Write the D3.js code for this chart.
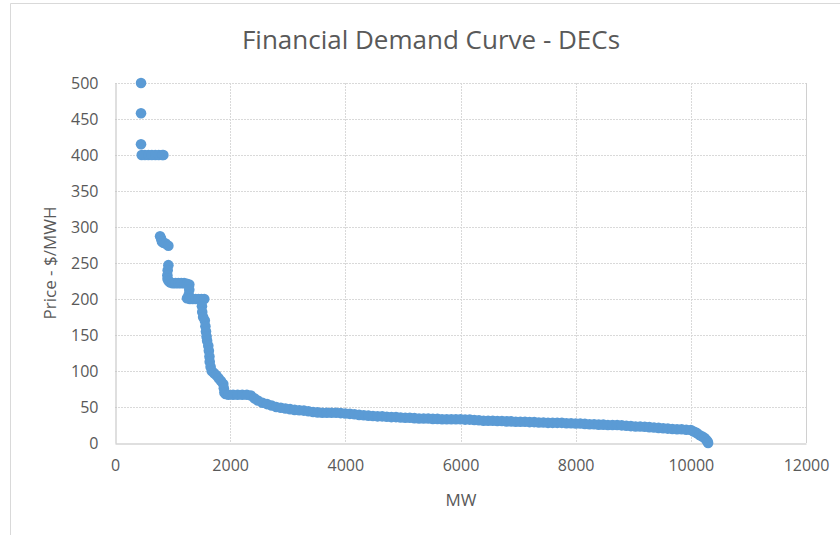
<!DOCTYPE html>
<html>
<head>
<meta charset="utf-8">
<script src="https://cdn.jsdelivr.net/npm/d3@7"></script>
<style>
  html, body { margin: 0; padding: 0; background: #fff; }
  svg { display: block; }
  text { font-family: "Open Sans", "Noto Sans", sans-serif; fill: #595959; }
</style>
</head>
<body>
<svg id="chart" width="840" height="535"></svg>
<script>
// ---- data ----
const title = "Financial Demand Curve - DECs";
const xLabel = "MW";
const yLabel = "Price - $/MWH";
const xTicks = [0, 2000, 4000, 6000, 8000, 10000, 12000];
const yTicks = [0, 50, 100, 150, 200, 250, 300, 350, 400, 450, 500];

const mw = [
  452, 452, 452,
  464, 520, 580, 640, 700, 760, 820, 840,
  783, 800, 815, 840, 880, 927,
  927, 915, 910, 912, 930, 960, 1000, 1050, 1100, 1150, 1200, 1250, 1290,
  1290, 1280, 1250, 1300, 1350, 1400, 1450, 1500, 1550,
  1510, 1515, 1530, 1560, 1570, 1580, 1590, 1600, 1620, 1630, 1640, 1645, 1660, 1680,
  1720, 1760, 1800, 1840, 1880, 1890, 1900, 1920, 1970,
  2050, 2130, 2210, 2290, 2360, 2420, 2480, 2560, 2640, 2720, 2800, 2880, 2960,
  3040, 3120, 3200, 3280, 3360, 3440, 3520, 3600, 3680, 3760, 3840, 3920,
  4000, 4080, 4160, 4240, 4320, 4400, 4480, 4560, 4640, 4720, 4800, 4880, 4960,
  5040, 5120, 5200, 5280, 5360, 5440, 5520, 5600, 5680, 5760, 5840, 5920,
  6000, 6080, 6160, 6240, 6320, 6400, 6480, 6560, 6640, 6720, 6800, 6880, 6960,
  7040, 7120, 7200, 7280, 7360, 7440, 7520, 7600, 7680, 7760, 7840, 7920,
  8000, 8080, 8160, 8240, 8320, 8400, 8480, 8560, 8640, 8720, 8800, 8880, 8960,
  9040, 9120, 9200, 9280, 9360, 9440, 9520, 9600, 9680, 9760, 9840, 9920,
  10000, 10050, 10100, 10150, 10200, 10240, 10270, 10290, 10300
];
const price = [
  500, 458, 415,
  400, 400, 400, 400, 400, 400, 400, 400,
  287, 284, 280, 278, 277, 274,
  247, 240, 233, 228, 225, 223, 222, 222, 222, 222, 222, 221, 220,
  213, 206, 201, 200, 200, 200, 200, 200, 200,
  190, 182, 175, 170, 162, 155, 148, 142, 135, 128, 120, 113, 106, 100,
  97, 94, 90, 86, 82, 76, 70, 68, 67,
  67, 67, 67, 67, 66, 62, 59, 56, 54, 52, 50, 49, 48,
  47, 46, 45.5, 45, 44, 43, 42.5, 42, 42, 42, 42, 41.5,
  41, 40.5, 40, 39, 38.5, 38, 37.5, 37, 37, 36.5, 36, 36, 35.5,
  35, 35, 34.5, 34, 34, 34, 33.5, 33.5, 33, 33, 33, 33,
  33, 32.5, 32.5, 32, 31.5, 31, 31, 31, 30.5, 30.5, 30, 30, 29.5,
  29.5, 29.5, 29, 29, 28.5, 28.5, 28, 28, 28, 28, 27.5, 27.5,
  27, 27, 26.5, 26, 26, 25.5, 25.5, 25, 25, 25, 24.5, 24, 23.5,
  23, 23, 22.5, 22, 21.5, 21, 20.5, 20, 19.5, 19, 19, 18.5,
  18, 16, 14, 11, 9, 7, 4, 2, 0
];

// ---- drawing ----
const svg = d3.select("#chart");
const W = 840, H = 535;
const m = { left: 115, right: 806, top: 83, bottom: 443 };

// outer chart frame (cropped)
svg.append("line").attr("x1", 10.5).attr("x2", W).attr("y1", 3.5).attr("y2", 3.5)
  .attr("stroke", "#d9d9d9").attr("stroke-width", 1);
svg.append("line").attr("x1", 10.5).attr("x2", 10.5).attr("y1", 3.5).attr("y2", H)
  .attr("stroke", "#d9d9d9").attr("stroke-width", 1);

const x = d3.scaleLinear().domain([0, 12000]).range([m.left, m.right]);
const y = d3.scaleLinear().domain([0, 500]).range([m.bottom, m.top]);

// gridlines
const grid = svg.append("g");
grid.selectAll("line.h").data(yTicks.filter(d => d > 0)).join("line")
  .attr("x1", m.left).attr("x2", m.right)
  .attr("y1", d => Math.round(y(d)) + 0.5).attr("y2", d => Math.round(y(d)) + 0.5)
  .attr("stroke", "#d9d9d9").attr("stroke-dasharray", "2,1");
grid.selectAll("line.v").data(xTicks.filter(d => d > 0 && d < 12000)).join("line")
  .attr("y1", m.top).attr("y2", m.bottom)
  .attr("x1", d => Math.round(x(d)) + 0.5).attr("x2", d => Math.round(x(d)) + 0.5)
  .attr("stroke", "#d9d9d9").attr("stroke-dasharray", "2,1");
grid.append("line")
  .attr("y1", m.top).attr("y2", m.bottom)
  .attr("x1", Math.round(x(12000)) + 0.5).attr("x2", Math.round(x(12000)) + 0.5)
  .attr("stroke", "#d0d0d0");

// axes
const xAxis = svg.append("g").attr("transform", `translate(0,${Math.round(y(0)) + 0.5})`)
  .call(d3.axisBottom(x).tickValues(xTicks).tickSize(0).tickPadding(16).tickFormat(d3.format("d")));
const yAxis = svg.append("g").attr("transform", `translate(${Math.round(x(0)) + 0.5},0)`)
  .call(d3.axisLeft(y).tickValues(yTicks).tickSize(0).tickPadding(17).tickFormat(d3.format("d")));
[xAxis, yAxis].forEach(a => {
  a.select(".domain").attr("stroke", "#bfbfbf").attr("stroke-width", 1);
  a.selectAll("text").attr("fill", "#595959").style("font-size", "16px")
    .style("font-family", "'Open Sans', sans-serif");
});

// points
svg.append("g").selectAll("circle").data(mw.map((d, i) => [d, price[i]])).join("circle")
  .attr("cx", d => x(d[0])).attr("cy", d => y(d[1])).attr("r", 5.3)
  .attr("fill", "#5b9bd5");

// title and labels
svg.append("text").attr("x", 431).attr("y", 49).attr("text-anchor", "middle")
  .style("font-size", "26px").text(title);
svg.append("text").attr("x", 461).attr("y", 506).attr("text-anchor", "middle")
  .style("font-size", "17px").text(xLabel);
svg.append("text").attr("transform", "translate(56,263) rotate(-90)").attr("text-anchor", "middle")
  .style("font-size", "17px").text(yLabel);
</script>
</body>
</html>
